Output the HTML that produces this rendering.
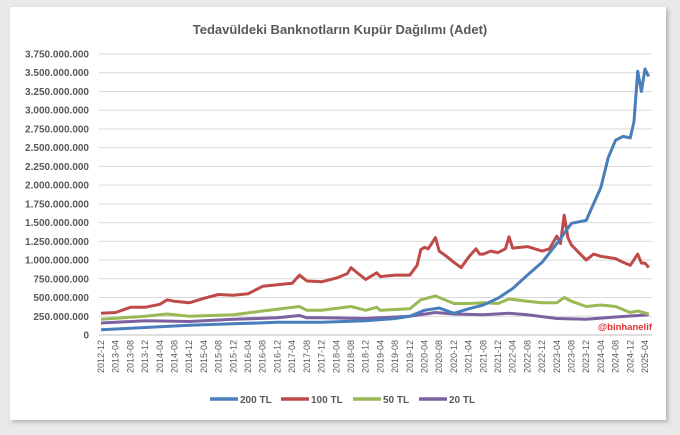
<!DOCTYPE html>
<html><head><meta charset="utf-8"><style>
html,body{margin:0;padding:0;background:#e9e9e9;}
body{width:680px;height:430px;overflow:hidden;font-family:"Liberation Sans",sans-serif;}
</style></head><body>
<svg id="c" width="680" height="430" xmlns="http://www.w3.org/2000/svg">
<defs><filter id="sh" x="-5%" y="-5%" width="110%" height="110%"><feDropShadow dx="2" dy="2" stdDeviation="2" flood-color="#888" flood-opacity="0.6"/></filter></defs>
<rect x="10" y="7" width="656" height="413" fill="#fff" filter="url(#sh)"/>
<text x="340" y="34" text-anchor="middle" font-size="13" font-weight="bold" fill="#595959">Tedavüldeki Banknotların Kupür Dağılımı (Adet)</text>
<g id="grid"></g><g id="ylab"></g><g id="xlab"></g><g id="lines"></g>
<text x="652" y="330" text-anchor="end" font-size="9.5" font-weight="bold" fill="#e03030">@binhanelif</text>
<g id="legend"></g>
</svg>
<script>
const yTicks=[0,250,500,750,1000,1250,1500,1750,2000,2250,2500,2750,3000,3250,3500,3750];
const xLabels=["2012-12","2013-04","2013-08","2013-12","2014-04","2014-08","2014-12","2015-04","2015-08","2015-12","2016-04","2016-08","2016-12","2017-04","2017-08","2017-12","2018-04","2018-08","2018-12","2019-04","2019-08","2019-12","2020-04","2020-08","2020-12","2021-04","2021-08","2021-12","2022-04","2022-08","2022-12","2023-04","2023-08","2023-12","2024-04","2024-08","2024-12","2025-04"];
const seriesNames=["200 TL","100 TL","50 TL","20 TL"];
const colors=["#4a7ebb","#be4b48","#98b954","#7d60a0"];
const m200=[0,12,24,36,48,60,72,80,84,88,92,96,100,104,108,112,116,120,124,128,132,136,138,140,142,144,145,146,147,148,149];
const v200=[70,100,130,150,170,170,190,220,250,330,360,290,350,400,490,620,800,970,1220,1490,1530,1970,2370,2600,2650,2630,2850,3520,3250,3550,3450];
const m100=[0,4,8,12,16,18,20,24,28,32,36,40,44,48,52,54,56,60,64,67,68,70,72,75,76,80,84,86,87,88,89,91,92,94,96,98,100,102,103,104,106,108,110,111,112,116,120,122,124,125,126,127,128,132,134,136,140,142,144,146,147,148,149];
const v100=[290,300,370,370,410,470,450,430,490,540,530,550,650,670,690,800,720,710,760,820,900,820,740,830,780,800,800,930,1140,1170,1150,1300,1120,1050,970,900,1040,1150,1080,1080,1120,1100,1150,1310,1160,1180,1120,1150,1320,1220,1600,1300,1200,1000,1080,1050,1020,970,930,1080,960,960,900];
const m50=[0,12,18,24,36,44,54,56,60,68,72,75,76,84,87,91,96,100,104,108,111,116,120,124,126,128,132,136,140,144,146,149];
const v50=[210,250,280,250,270,320,380,330,330,380,330,370,330,350,470,520,420,420,430,420,480,450,430,430,500,450,380,400,380,300,320,280];
const m20=[0,12,24,36,48,54,56,60,72,84,91,96,104,111,116,124,132,140,149];
const v20=[160,190,180,210,230,260,230,230,220,250,300,280,270,290,270,220,210,240,270];
const L=101,PX=3.676,Y0=335,YS=281/3750;
const xs=m=>L+m*PX, ys=v=>Y0-v*YS;
const NS="http://www.w3.org/2000/svg";
function mk(t,a,p){const e=document.createElementNS(NS,t);for(const k in a)e.setAttribute(k,a[k]);p.appendChild(e);return e;}
const g=document.getElementById('grid'),yl=document.getElementById('ylab'),xl=document.getElementById('xlab'),ln=document.getElementById('lines'),lg=document.getElementById('legend');
yTicks.forEach(t=>{
 const y=ys(t);
 const l=mk('line',{x1:99,x2:652,y1:y,y2:y,stroke:t===0?'#bfbfbf':'#d9d9d9','stroke-width':1},g);
 
 
 const tx=mk('text',{x:89,y:y+3.5,'text-anchor':'end','font-size':10,'font-weight':'bold',fill:'#595959'},yl);
 tx.textContent=t===0?'0':(t*1000000).toLocaleString('de-DE');
 
 
});
xLabels.forEach((s,i)=>{
 const x=xs(i*4);
 const tx=mk('text',{x:0,y:0,'text-anchor':'end','font-size':9,fill:'#595959',transform:`translate(${x+3},340) rotate(-90)`},xl);
 tx.textContent=s;
 
 
});
const data=[[m200,v200],[m100,v100],[m50,v50],[m20,v20]];
[3,2,1,0].forEach(i=>{
 const [m,v]=data[i];
 const p=mk('polyline',{points:m.map((mm,j)=>xs(mm).toFixed(1)+','+ys(v[j]).toFixed(1)).join(' '),fill:'none',stroke:colors[i],'stroke-width':3,'stroke-linejoin':'round'},ln);
 
 
});
const lx=[210,281,353,419];
seriesNames.forEach((s,i)=>{
 const l=mk('line',{x1:lx[i],x2:lx[i]+28,y1:399,y2:399,stroke:colors[i],'stroke-width':3.5},lg);
 
 
 const t=mk('text',{x:lx[i]+30,y:403,'font-size':10,'font-weight':'bold',fill:'#595959'},lg);
 t.textContent=s;
 
 
});
</script>
</body></html>
